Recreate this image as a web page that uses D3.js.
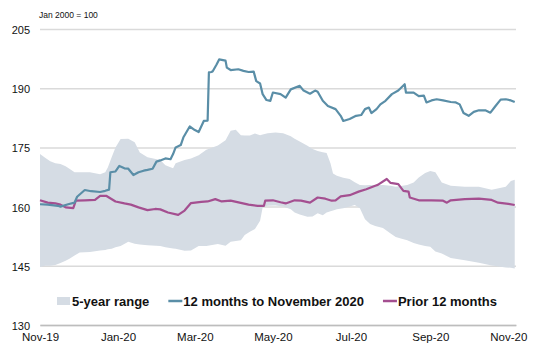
<!DOCTYPE html>
<html>
<head>
<meta charset="utf-8">
<script src="https://cdn.jsdelivr.net/npm/d3@7"></script>
<style>
  body { margin: 0; background: #fff; }
  svg { display: block; font-family: "Liberation Sans", Arial, sans-serif; }
</style>
</head>
<body>
<svg></svg>
<script>
var width = 533;
var height = 348;

// 5-year range band
var bandDates = ["2019-11-01","2019-11-05","2019-11-09","2019-11-13","2019-11-17","2019-11-21","2019-11-24","2019-11-28",
  "2019-12-02","2019-12-10","2019-12-18","2019-12-22","2019-12-24","2019-12-27","2019-12-30","2020-01-03","2020-01-09",
  "2020-01-14","2020-01-18","2020-01-24","2020-02-03","2020-02-07","2020-02-13","2020-02-15","2020-02-22","2020-02-27",
  "2020-03-04","2020-03-10","2020-03-19","2020-03-25","2020-03-29","2020-04-02","2020-04-06","2020-04-09","2020-04-13",
  "2020-04-17","2020-04-21","2020-04-23","2020-04-27","2020-05-03","2020-05-09","2020-05-15","2020-05-18","2020-05-22",
  "2020-05-28","2020-06-01","2020-06-05","2020-06-09","2020-06-12","2020-06-15","2020-06-17","2020-06-20","2020-06-25",
  "2020-06-30","2020-07-04","2020-07-08","2020-07-12","2020-07-16","2020-07-20","2020-07-26","2020-08-01","2020-08-05",
  "2020-08-09","2020-08-14","2020-08-19","2020-08-23","2020-08-28","2020-09-01","2020-09-05","2020-09-10","2020-09-17",
  "2020-09-28","2020-10-09","2020-10-19","2020-10-30","2020-11-03","2020-11-06"];
var bandUpper = [173.3,172.4,171.5,171.0,170.8,170.2,169.6,168.7,168.7,168.7,168.2,168.7,169.9,172.5,175.0,177.1,177.2,
  176.3,173.7,172.5,171.8,170.5,169.7,171.0,171.8,172.2,173.0,174.4,175.5,176.8,179.2,179.5,178.1,178.0,178.0,
  178.5,178.1,178.3,178.6,178.8,178.6,177.8,177.2,176.5,175.4,174.6,174.1,173.8,173.6,171.0,168.4,167.8,167.3,
  167.0,166.2,165.5,165.4,165.5,165.4,165.5,165.3,165.0,165.2,165.5,166.1,167.4,168.5,169.0,168.7,166.1,165.3,
  165.0,165.0,164.3,165.0,166.5,166.8];
var bandLower = [144.7,145.0,145.0,145.2,145.7,146.3,146.8,147.6,148.4,148.5,148.9,149.0,149.2,149.3,149.7,150.0,151.1,
  150.6,150.4,150.2,150.0,149.7,149.4,149.3,148.8,148.9,150.0,150.0,150.5,150.1,151.1,151.3,151.5,152.8,153.6,
  154.3,156.4,159.8,160.2,160.3,160.0,159.3,158.5,158.0,157.4,157.5,158.3,157.8,158.5,158.8,159.0,159.3,159.6,
  160.0,160.4,159.6,156.8,155.6,155.1,154.6,153.2,152.3,151.9,151.5,150.8,150.4,150.0,149.8,148.6,148.1,147.0,
  146.4,145.8,145.1,144.6,144.5,144.3];

// 12 months to November 2020
var recentDates = ["2019-11-01","2019-11-07","2019-11-15","2019-11-17","2019-11-23","2019-11-28","2019-11-30","2019-12-06",
  "2019-12-11","2019-12-18","2019-12-22","2019-12-25","2019-12-26","2019-12-30","2020-01-02","2020-01-06","2020-01-09",
  "2020-01-13","2020-01-17","2020-01-21","2020-01-24","2020-01-28","2020-01-31","2020-02-03","2020-02-07","2020-02-11",
  "2020-02-13","2020-02-15","2020-02-19","2020-02-21","2020-02-26","2020-03-01","2020-03-04","2020-03-06","2020-03-08",
  "2020-03-11","2020-03-12","2020-03-14","2020-03-15","2020-03-18","2020-03-20","2020-03-25","2020-03-26","2020-03-29",
  "2020-04-04","2020-04-08","2020-04-12","2020-04-16","2020-04-18","2020-04-21","2020-04-23","2020-04-26","2020-04-29",
  "2020-05-01","2020-05-07","2020-05-11","2020-05-15","2020-05-22","2020-05-25","2020-05-30","2020-06-03","2020-06-05",
  "2020-06-09","2020-06-13","2020-06-19","2020-06-23","2020-06-25","2020-06-30","2020-07-05","2020-07-09","2020-07-12",
  "2020-07-15","2020-07-17","2020-07-21","2020-07-24","2020-07-28","2020-08-02","2020-08-07","2020-08-12","2020-08-13",
  "2020-08-19","2020-08-23","2020-08-27","2020-08-29","2020-09-02","2020-09-06","2020-09-11","2020-09-17","2020-09-21",
  "2020-09-24","2020-09-27","2020-10-01","2020-10-05","2020-10-09","2020-10-14","2020-10-18","2020-10-22","2020-10-26",
  "2020-10-30","2020-11-03","2020-11-06"];
var recentValues = [160.6,160.5,160.2,160.0,160.6,161.0,162.5,164.2,163.9,163.7,164.0,164.3,168.7,168.9,170.3,169.7,169.6,
  168.0,168.7,169.1,169.3,169.6,171.4,171.7,172.2,172.0,173.3,175.0,175.6,177.5,180.3,179.4,178.9,180.3,181.7,
  181.8,194.0,194.1,194.3,196.0,197.3,197.0,195.2,194.6,194.8,194.4,194.1,194.2,191.8,191.2,188.5,187.0,186.8,
  188.9,188.5,187.6,189.7,190.6,189.4,188.6,189.4,189.1,186.8,185.5,184.7,183.0,181.7,182.2,183.0,183.2,184.7,
  185.1,183.7,184.7,185.9,186.8,188.5,189.4,191.0,188.9,188.9,188.0,188.1,186.4,186.9,187.2,186.9,186.5,186.4,
  185.9,183.7,183.0,184.0,184.4,184.4,183.8,185.5,187.1,187.2,186.9,186.5];

// Prior 12 months
var priorDates = ["2019-11-01","2019-11-07","2019-11-13","2019-11-17","2019-11-21","2019-11-27","2019-11-29","2019-12-06",
  "2019-12-14","2019-12-18","2019-12-23","2019-12-30","2020-01-06","2020-01-11","2020-01-17","2020-01-24","2020-01-30",
  "2020-02-03","2020-02-09","2020-02-17","2020-02-22","2020-02-27","2020-03-06","2020-03-11","2020-03-17","2020-03-22",
  "2020-03-29","2020-04-05","2020-04-12","2020-04-19","2020-04-24","2020-04-25","2020-05-01","2020-05-07","2020-05-11",
  "2020-05-18","2020-05-23","2020-05-30","2020-06-05","2020-06-11","2020-06-16","2020-06-19","2020-06-23","2020-06-30",
  "2020-07-07","2020-07-13","2020-07-20","2020-07-22","2020-07-29","2020-08-01","2020-08-07","2020-08-11","2020-08-15",
  "2020-08-16","2020-08-23","2020-09-02","2020-09-11","2020-09-14","2020-09-17","2020-09-28","2020-10-09","2020-10-19",
  "2020-10-24","2020-11-01","2020-11-06"];
var priorValues = [161.6,161.0,160.8,160.5,159.8,159.6,161.5,161.6,161.7,162.7,162.7,161.3,160.8,160.5,159.8,159.1,159.4,
  159.3,158.5,157.9,159.0,160.9,161.2,161.3,161.9,161.3,161.5,161.0,160.5,160.2,160.2,161.5,161.6,161.1,160.8,
  161.6,161.5,161.0,162.3,162.0,161.5,161.6,162.6,162.9,163.8,164.4,165.3,165.5,167.0,166.0,165.7,164.0,163.8,
  162.3,161.6,161.6,161.5,161.0,161.6,161.9,162.0,161.7,161.0,160.7,160.4];

var yTicks = [130, 145, 160, 175, 190, 205];
var xStart = "2019-11-01";
var xEnd = "2020-11-07";
var unitNote = "Jan 2000 = 100";
var legendLabels = ["5-year range", "12 months to November 2020", "Prior 12 months"];

var colors = { band: "#d5dce4", recent: "#5a8ea7", prior: "#a44f90" };

var parse = d3.timeParse("%Y-%m-%d");

var svg = d3.select("svg")
    .attr("width", width)
    .attr("height", height);

var x = d3.scaleTime()
    .domain([parse(xStart), parse(xEnd)])
    .range([40, 516]);

var y = d3.scaleLinear()
    .domain([130, 205])
    .range([325, 29]);

// gridlines + y labels
var yAxis = svg.append("g")
    .attr("transform", "translate(40,0)")
    .call(d3.axisLeft(y).tickValues(yTicks).tickSize(-476).tickPadding(10));
yAxis.select(".domain").remove();
yAxis.selectAll(".tick line").attr("stroke", "#dadada").attr("stroke-width", 1.5);
yAxis.selectAll(".tick text").attr("fill", "#111").style("font-size", "11px").attr("dy", "0.4em");

var band = bandDates.map(function (d, i) {
  return { date: parse(d), lo: bandLower[i], hi: bandUpper[i] };
});

svg.append("path")
    .datum(band)
    .attr("fill", colors.band)
    .attr("d", d3.area()
      .x(function (d) { return x(d.date); })
      .y0(function (d) { return y(d.lo); })
      .y1(function (d) { return y(d.hi); }));

// x axis
var xAxis = svg.append("g")
    .attr("transform", "translate(0," + y(130) + ")")
    .call(d3.axisBottom(x).ticks(d3.timeMonth.every(2)).tickFormat(d3.timeFormat("%b-%y")).tickSize(0).tickPadding(8));
xAxis.select(".domain").attr("stroke", "#bdbdbd").attr("stroke-width", 1.5);
xAxis.selectAll(".tick text").attr("fill", "#111").style("font-size", "11.5px");

var line = d3.line()
    .x(function (d) { return x(d.date); })
    .y(function (d) { return y(d.v); });

var prior = priorDates.map(function (d, i) { return { date: parse(d), v: priorValues[i] }; });
var recent = recentDates.map(function (d, i) { return { date: parse(d), v: recentValues[i] }; });

svg.append("path")
    .datum(prior)
    .attr("fill", "none")
    .attr("stroke", colors.prior)
    .attr("stroke-width", 2.2)
    .attr("stroke-linejoin", "round")
    .attr("d", line);

svg.append("path")
    .datum(recent)
    .attr("fill", "none")
    .attr("stroke", colors.recent)
    .attr("stroke-width", 2.2)
    .attr("stroke-linejoin", "round")
    .attr("d", line);

// unit note
svg.append("text")
    .attr("x", 39)
    .attr("y", 18)
    .style("font-size", "8.5px")
    .attr("fill", "#111")
    .text(unitNote);

// legend
var legend = svg.append("g").attr("transform", "translate(0,301)");
var lx = 57;
var legendColors = [colors.band, colors.recent, colors.prior];
legendLabels.forEach(function (label, i) {
  if (i === 0) {
    legend.append("rect").attr("x", lx).attr("y", -4).attr("width", 13).attr("height", 8).attr("fill", legendColors[i]);
  } else {
    legend.append("line").attr("x1", lx).attr("x2", lx + 14).attr("y1", 0).attr("y2", 0)
      .attr("stroke", legendColors[i]).attr("stroke-width", 2.5);
  }
  var t = legend.append("text")
      .attr("x", lx + 15)
      .attr("y", 0)
      .attr("dy", "0.36em")
      .style("font-size", "13px")
      .style("font-weight", "bold")
      .attr("fill", "#111")
      .text(label);
  lx = lx + 15 + t.node().getComputedTextLength() + 19;
});
</script>
</body>
</html>
